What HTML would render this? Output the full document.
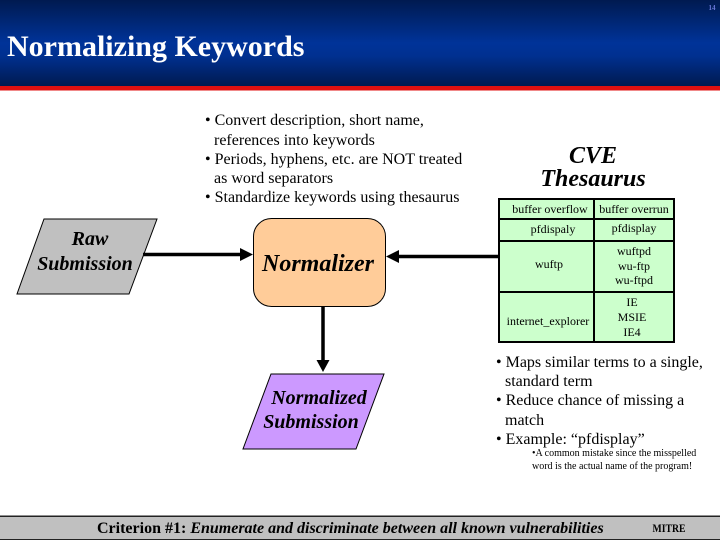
<!DOCTYPE html>
<html><head><meta charset="utf-8"><style>
html,body{margin:0;padding:0;background:#fff}
svg{display:block}
text{font-family:"Liberation Serif",serif;fill:#000}
.b{font-size:16px}
.t{font-size:12px;text-anchor:middle}
.n{font-size:20px;font-weight:bold;font-style:italic;text-anchor:middle}
</style></head><body>
<svg width="720" height="540" viewBox="0 0 720 540" xmlns="http://www.w3.org/2000/svg">
<defs><linearGradient id="g" x1="0" y1="0" x2="0" y2="1">
<stop offset="0" stop-color="#001a50"/><stop offset=".5" stop-color="#003399"/><stop offset=".65" stop-color="#003090"/><stop offset="1" stop-color="#001a50"/>
</linearGradient></defs>
<rect width="720" height="86" fill="url(#g)"/>
<rect y="86" width="720" height="4.500" fill="#e01010"/>
<text x="712" y="10" style="font-size:7px;font-weight:bold;fill:#6a78d8" text-anchor="middle">14</text>
<text x="7" y="56" style="font-size:30px;font-weight:bold;fill:#fff">Normalizing Keywords</text>

<text class="b" x="205" y="125">• Convert description, short name,</text>
<text class="b" x="214" y="145">references into keywords</text>
<text class="b" x="205" y="164">• Periods, hyphens, etc. are NOT treated</text>
<text class="b" x="214" y="183">as word separators</text>
<text class="b" x="205" y="202">• Standardize keywords using thesaurus</text>

<text x="593" y="163" style="font-size:24px;font-weight:bold;font-style:italic" text-anchor="middle">CVE</text>
<text x="593" y="186" style="font-size:24px;font-weight:bold;font-style:italic" text-anchor="middle">Thesaurus</text>

<polygon points="44,219 157,219 129,294 17,294" fill="#c0c0c0" stroke="#000"/>
<text class="n" x="90" y="245">Raw</text>
<text class="n" x="85" y="270">Submission</text>

<rect x="253.500" y="218.500" width="132" height="88" rx="18" fill="#ffcc99" stroke="#000"/>
<text class="n" x="318" y="271" style="font-size:24px">Normalizer</text>

<polygon points="271,374 384,374 356,449 243,449" fill="#cc99ff" stroke="#000"/>
<text class="n" x="319" y="404">Normalized</text>
<text class="n" x="311" y="428">Submission</text>

<line x1="143" y1="254.500" x2="242" y2="254.500" stroke="#000" stroke-width="3.500"/>
<polygon points="240,248 253,254.500 240,261"/>
<line x1="498" y1="256.500" x2="398" y2="256.500" stroke="#000" stroke-width="3.500"/>
<polygon points="399,250 386,256.500 399,263"/>
<line x1="323" y1="307" x2="323" y2="362" stroke="#000" stroke-width="3.500"/>
<polygon points="316.500,360 329.500,360 323,372"/>

<rect x="499" y="199" width="175" height="143" fill="#ccffcc"/>
<g stroke="#000" stroke-width="2" fill="none">
<rect x="499" y="199" width="175" height="143"/>
<line x1="594" y1="199" x2="594" y2="342"/>
<line x1="499" y1="219" x2="674" y2="219"/>
<line x1="499" y1="241" x2="674" y2="241"/>
<line x1="499" y1="292" x2="674" y2="292"/>
</g>
<text class="t" x="550" y="213">buffer overflow</text>
<text class="t" x="634" y="213">buffer overrun</text>
<text class="t" x="553" y="233">pfdispaly</text>
<text class="t" x="634" y="232">pfdisplay</text>
<text class="t" x="549" y="268">wuftp</text>
<text class="t" x="634" y="255">wuftpd</text>
<text class="t" x="634" y="270">wu-ftp</text>
<text class="t" x="634" y="284">wu-ftpd</text>
<text class="t" x="548" y="325">internet_explorer</text>
<text class="t" x="632" y="306">IE</text>
<text class="t" x="632" y="321">MSIE</text>
<text class="t" x="632" y="336">IE4</text>

<text class="b" x="496" y="367">• Maps similar terms to a single,</text>
<text class="b" x="505" y="386">standard term</text>
<text class="b" x="496" y="405">• Reduce chance of missing a</text>
<text class="b" x="505" y="425">match</text>
<text class="b" x="496" y="444">• Example: “pfdisplay”</text>
<text x="532" y="456" style="font-size:10px">•A common mistake since the misspelled</text>
<text x="532" y="469" style="font-size:10px">word is the actual name of the program!</text>

<rect x="0" y="516" width="720" height="24" fill="#c0c0c0"/>
<rect x="0" y="515.500" width="720" height="1.500" fill="#222"/>
<rect x="0" y="539" width="720" height="1" fill="#222"/>
<text x="97" y="533" style="font-size:16px;font-weight:bold">Criterion #1: <tspan font-style="italic">Enumerate and discriminate between all known vulnerabilities</tspan></text>
<text x="669" y="532" style="font-size:12px;font-weight:bold" text-anchor="middle" textLength="33" lengthAdjust="spacingAndGlyphs">MITRE</text>
</svg>
</body></html>
